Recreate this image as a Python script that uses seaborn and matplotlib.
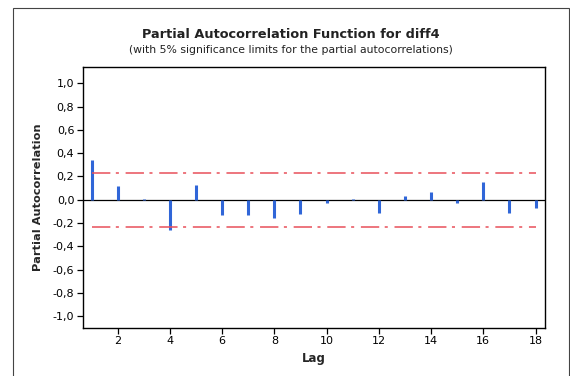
import numpy as np
import seaborn as sns
import matplotlib
matplotlib.use("Agg")
import matplotlib.pyplot as plt
from matplotlib.patches import Rectangle
from matplotlib.ticker import FuncFormatter

# PACF values
lags = [1, 2, 3, 4, 5, 6, 7, 8, 9, 10, 11, 12, 13, 14, 15, 16, 17, 18]
pacf = [0.34, 0.12, 0.01, -0.26, 0.13, -0.13, -0.135, -0.16, -0.12,
        -0.03, 0.005, -0.11, 0.035, 0.07, -0.03, 0.155, -0.11, -0.07]
sig_limit = 0.23
yticks = [1.0, 0.8, 0.6, 0.4, 0.2, 0.0, -0.2, -0.4, -0.6, -0.8, -1.0]
xticks = [2, 4, 6, 8, 10, 12, 14, 16, 18]

sns.set_theme(style="ticks")
plt.rcParams['font.family'] = ['DejaVu Sans']

fig = plt.figure(figsize=(5.7, 3.76), dpi=100)
ax = fig.add_axes([0.145, 0.128, 0.811, 0.694])

# outer frame of the graph window
fig.patches.append(Rectangle((13 / 570, -0.05), 556 / 570, 1 - 8 / 376 + 0.05,
                             transform=fig.transFigure, fill=False,
                             edgecolor='#444444', linewidth=0.8))

# stems
ax.axhline(0, color='black', linewidth=0.9, zorder=1)
ax.vlines(lags, 0, pacf, color='#3066d8', linewidth=2.2, zorder=2)

# significance limits
dashdot = (0, (12, 3.6, 2, 4.4))
ax.plot([lags[0], lags[-1]], [sig_limit, sig_limit], color='#e8505a',
        linewidth=1.1, linestyle=dashdot)
ax.plot([lags[0], lags[-1]], [-sig_limit, -sig_limit], color='#e8505a',
        linewidth=1.1, linestyle=dashdot)

ax.set_xlim(0.66, 18.36)
ax.set_ylim(-1.10, 1.14)
ax.set_xticks(xticks)
ax.set_yticks(yticks)
ax.yaxis.set_major_formatter(FuncFormatter(lambda v, p: f"{v:.1f}".replace('.', ',')))
ax.tick_params(axis='both', direction='out', length=4, width=0.9,
               labelsize=8, colors='black', pad=2)
for s in ax.spines.values():
    s.set_linewidth(1.0)
    s.set_color('black')

ax.set_xlabel('Lag', fontsize=8.5, fontweight='bold', labelpad=4)
ax.set_ylabel('Partial Autocorrelation', fontsize=8.2, fontweight='bold', labelpad=7)

fig.text(0.51, 1 - 35 / 376, 'Partial Autocorrelation Function for diff4',
         ha='center', va='center', fontsize=9.3, fontweight='bold', color='#222222')
fig.text(0.51, 1 - 50 / 376, '(with 5% significance limits for the partial autocorrelations)',
         ha='center', va='center', fontsize=7.8, color='#222222')

plt.savefig('out.png', dpi=100)
